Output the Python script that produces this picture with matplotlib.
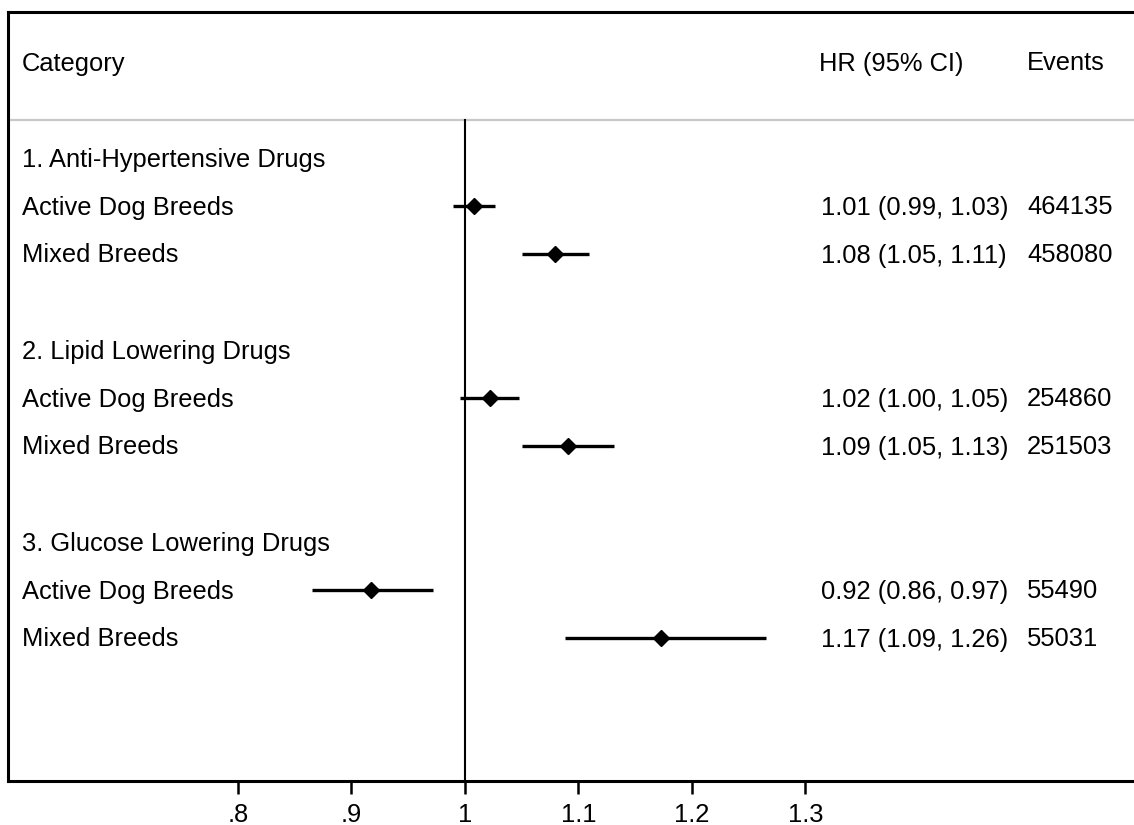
import matplotlib
matplotlib.use("Agg")
import matplotlib.pyplot as plt

plt.rcParams['font.family'] = ['Liberation Sans', 'DejaVu Sans']

groups = ["1. Anti-Hypertensive Drugs", "2. Lipid Lowering Drugs", "3. Glucose Lowering Drugs"]
subgroups = ["Active Dog Breeds", "Mixed Breeds"]
# plotted estimates
hr = [[1.008, 1.079], [1.022, 1.091], [0.917, 1.173]]
lo = [[0.989, 1.050], [0.996, 1.050], [0.865, 1.088]]
hi = [[1.026, 1.109], [1.048, 1.131], [0.972, 1.265]]
hr_text = [["1.01 (0.99, 1.03)", "1.08 (1.05, 1.11)"],
           ["1.02 (1.00, 1.05)", "1.09 (1.05, 1.13)"],
           ["0.92 (0.86, 0.97)", "1.17 (1.09, 1.26)"]]
events = [["464135", "458080"], ["254860", "251503"], ["55490", "55031"]]
xticks = [0.8, 0.9, 1.0, 1.1, 1.2, 1.3]
xticklabels = [".8", ".9", "1", "1.1", "1.2", "1.3"]

W, H = 1134, 825
fig = plt.figure(figsize=(W / 100, H / 100), dpi=100)
left_px, right_px, top_px, bot_px = 8, 1140, 12, 781
ax = fig.add_axes([left_px / W, (H - bot_px) / H, (right_px - left_px) / W, (bot_px - top_px) / H])

def px2val(p):
    return 1 + (p - 465) / 1135.0

ax.set_xlim(px2val(left_px), px2val(right_px))
row_h = 48.0
y0 = 158.0
def px2row(p):
    return (p - y0) / row_h
ax.set_ylim(px2row(bot_px), px2row(top_px))

fs = 18.4
x_lab = px2val(22)
x_hr = px2val(821)
x_ev = px2val(1027)
dy = 8.5 / row_h  # baseline offset below row centre

y_head = px2row(62)
ax.text(x_lab, y_head + dy, "Category", fontsize=fs, va="baseline", ha="left")
ax.text(x_hr - px2val(821) + px2val(819), y_head + dy, "HR (95% CI)", fontsize=fs, va="baseline", ha="left")
ax.text(x_ev, y_head + dy, "Events", fontsize=fs, va="baseline", ha="left")
y_sep = px2row(120)
ax.axhline(y_sep, color="#c8c8c8", lw=1.6, zorder=1)

ax.plot([1, 1], [y_sep, px2row(bot_px)], color="black", lw=1.5, zorder=2, clip_on=False)

for gi, g in enumerate(groups):
    base = gi * 4
    ax.text(x_lab, base + dy, g, fontsize=fs, va="baseline", ha="left")
    for si, s in enumerate(subgroups):
        y = base + 1 + si
        ax.text(x_lab, y + dy, s, fontsize=fs, va="baseline", ha="left")
        ax.plot([lo[gi][si], hi[gi][si]], [y, y], color="black", lw=2.4, solid_capstyle="butt", zorder=3)
        ax.plot(hr[gi][si], y, marker="D", color="black", markersize=8, zorder=4)
        ax.text(x_hr, y + dy, hr_text[gi][si], fontsize=fs, va="baseline", ha="left")
        ax.text(x_ev, y + dy, events[gi][si], fontsize=fs, va="baseline", ha="left")

ax.set_xticks(xticks)
ax.set_xticklabels(xticklabels, fontsize=fs)
ax.set_yticks([])
ax.tick_params(axis="x", direction="out", length=9, width=1.8, pad=7)
for side in ["left", "top", "bottom"]:
    ax.spines[side].set_linewidth(2.2)
ax.spines["right"].set_visible(False)

fig.savefig("out.png", dpi=100)
